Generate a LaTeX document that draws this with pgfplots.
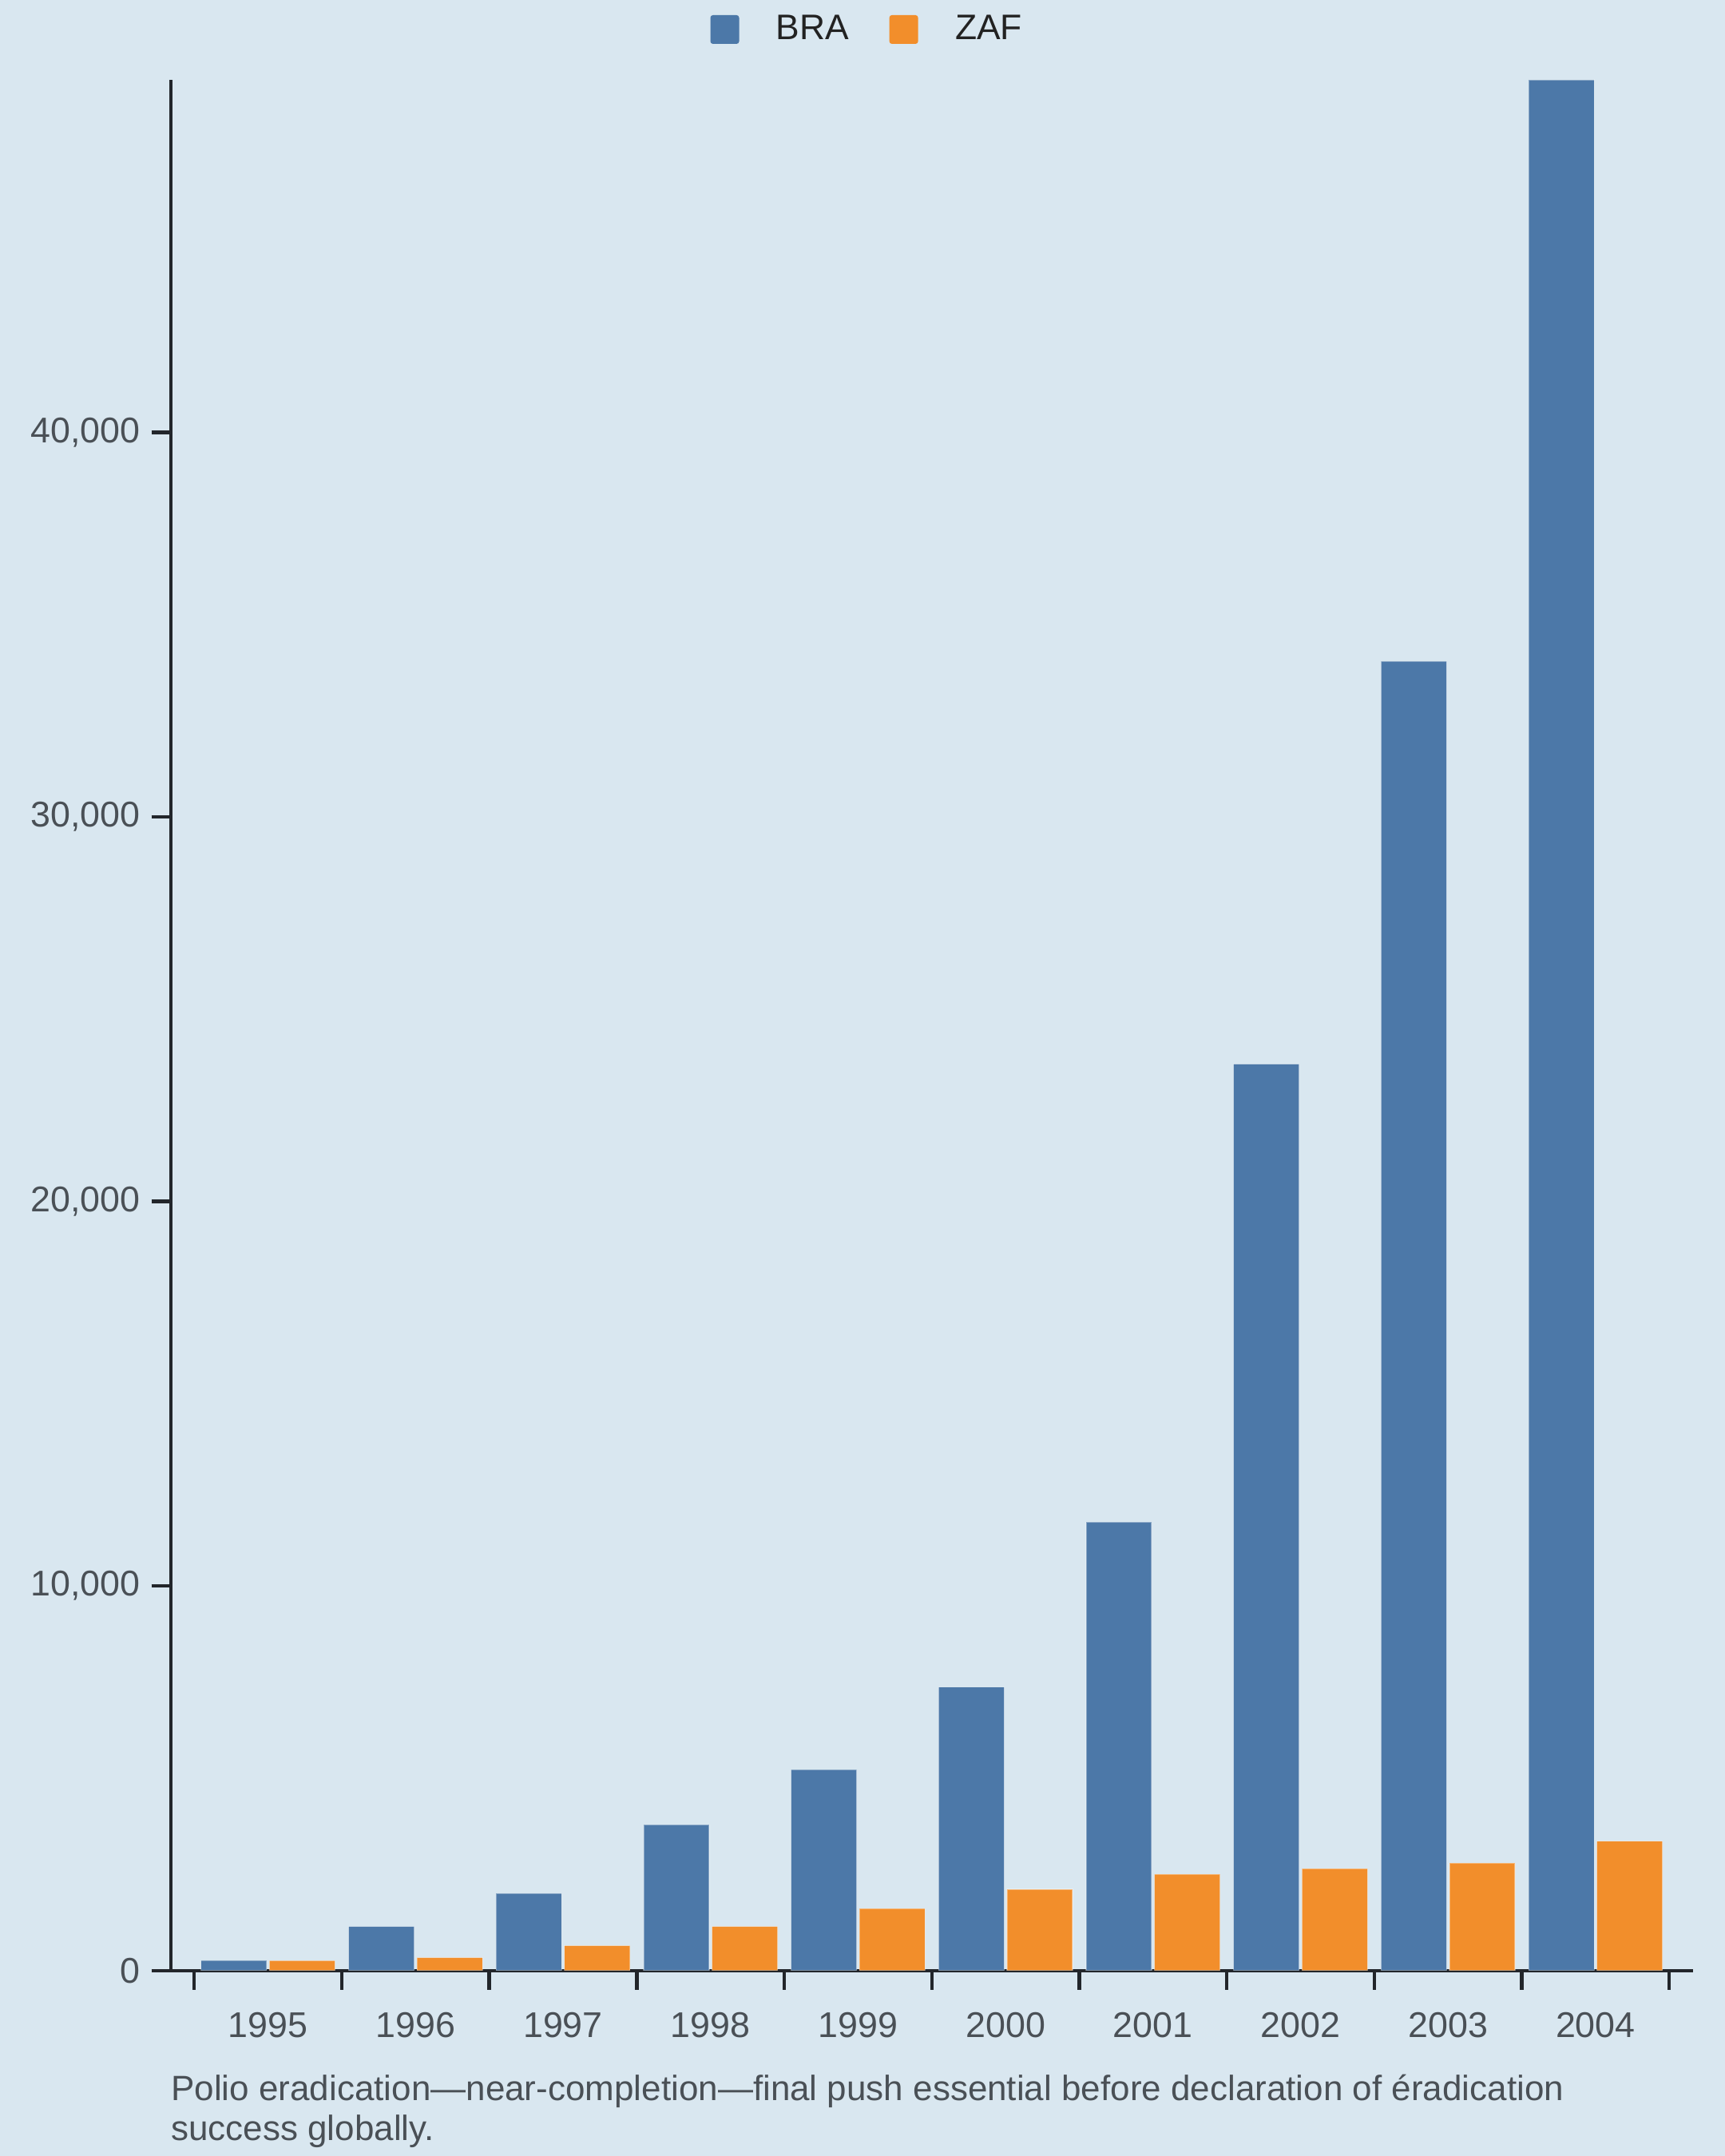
\documentclass[border=0pt]{standalone}
\usepackage{pgfplots}
\pgfplotsset{compat=1.18}
\usepackage{fontspec}
\setmainfont{Liberation Sans}
\definecolor{bg}{HTML}{D9E7F0}
\definecolor{bra}{HTML}{4C78A8}
\definecolor{zaf}{HTML}{F28E2B}
\definecolor{axisc}{HTML}{22262B}
\definecolor{ticktext}{HTML}{4A5056}
\definecolor{legtext}{HTML}{222222}
\begin{document}
\begin{tikzpicture}
\path[use as bounding box, fill=bg] (0,0) rectangle (540pt,675pt);
\begin{axis}[
  at={(53.425pt,58.075pt)}, anchor=south west,
  scale only axis, width=476.575pt, height=591.925pt,
  xmin=-0.66, xmax=9.661, ymin=0, ymax=49170,
  axis x line=bottom, axis y line=left,
  axis line style={-, line width=1.1pt, axisc},
  x axis line style={shorten <=-5.9pt},
  tick align=outside, major tick length=6pt,
  tick style={line width=1.1pt, axisc},
  xtick={-0.5,0.5,1.5,2.5,3.5,4.5,5.5,6.5,7.5,8.5,9.5},
  xticklabels={},
  extra x ticks={0,1,2,3,4,5,6,7,8,9},
  extra x tick labels={1995,1996,1997,1998,1999,2000,2001,2002,2003,2004},
  extra x tick style={major tick length=0pt, tick label style={yshift=-9.6pt}},
  ytick={0,10000,20000,30000,40000},
  scaled y ticks=false,
  /pgf/number format/.cd, 1000 sep={,}, assume math mode=true, /pgfplots/.cd,
  tick label style={font=\fontsize{11.2}{13.5}\selectfont, text=ticktext},
  ybar=0.9pt, bar width=20.5pt,
  legend style={at={(0.459,1)}, anchor=center, yshift=15.75pt, draw=none, fill=none,
    font=\fontsize{11.1}{13.5}\selectfont, text=legtext, legend columns=-1,
    /tikz/every odd column/.append style={column sep=9.6pt},
    /tikz/every even column/.append style={column sep=10.6pt}},
  legend image code/.code={\fill[#1, draw=none, rounded corners=0.8pt] (0pt,-4.5pt) rectangle (9pt,4.5pt);},
]
\addplot[fill=bra, draw=white, draw opacity=0.35, line width=0.3pt] coordinates {
(0,260) (1,1145) (2,2003) (3,3792) (4,5222) (5,7369) (6,11661) (7,23572) (8,34053) (9,49170)};
\addplot[fill=zaf, draw=white, draw opacity=0.35, line width=0.3pt] coordinates {
(0,258) (1,332) (2,644) (3,1145) (4,1610) (5,2110) (6,2504) (7,2647) (8,2793) (9,3362)};
\legend{BRA,ZAF}
\end{axis}
\node[anchor=base west, inner sep=0, font=\fontsize{11}{13}\selectfont, text=ticktext] at (53.4pt,17.3pt) {Polio eradication—near-completion—final push essential before declaration of éradication};
\node[anchor=base west, inner sep=0, font=\fontsize{11}{13}\selectfont, text=ticktext] at (53.4pt,5pt) {success globally.};
\end{tikzpicture}
\end{document}
